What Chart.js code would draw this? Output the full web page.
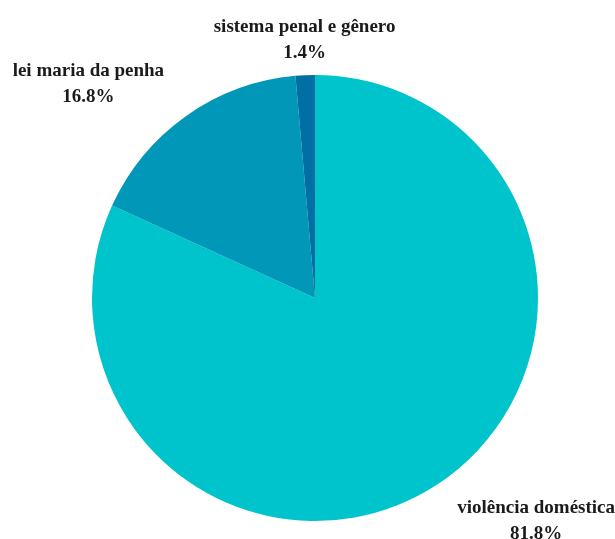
<!DOCTYPE html>
<html>
<head>
<meta charset="utf-8">
<script src="https://cdn.jsdelivr.net/npm/chart.js@4/dist/chart.umd.min.js"></script>
<style>
  body { margin: 0; background: #fff; }
  #grafico { display: block; }
</style>
</head>
<body>
<canvas id="grafico" width="615" height="539"></canvas>
<script>
const categorias = ["violência doméstica", "lei maria da penha", "sistema penal e gênero"];
const valores = [81.8, 16.8, 1.4];
const cores = ["#00c4cc", "#0097b9", "#006fa3"];

// rótulos fora da pizza, como no original
const rotulosExternos = {
    id: "rotulosExternos",
    afterDraw(chart) {
        const ctx = chart.ctx;
        const meta = chart.getDatasetMeta(0);
        const total = valores.reduce((a, b) => a + b, 0);
        const alturaLinha = 26;
        ctx.save();
        ctx.font = "bold 19px 'Liberation Serif', 'Times New Roman', serif";
        ctx.fillStyle = "#1a1a1a";
        ctx.textAlign = "center";
        ctx.textBaseline = "alphabetic";
        meta.data.forEach((arc, i) => {
            const meio = (arc.startAngle + arc.endAngle) / 2;
            const dx = Math.cos(meio);
            const dy = Math.sin(meio);
            const r = arc.outerRadius + 14;
            let px = arc.x + dx * r;
            const py = arc.y + dy * r + 2;
            const linhas = [categorias[i], (valores[i] / total * 100).toFixed(1) + "%"];
            const largura = Math.max(...linhas.map(t => ctx.measureText(t).width));
            let centroX = px;
            if (dx > 0.15) centroX = px + 14 + largura / 2;
            else if (dx < -0.15) centroX = px - 14 - largura / 2;
            let primeira;
            if (dy < 0) primeira = py - 5 - alturaLinha * (linhas.length - 1);
            else primeira = py + 14;
            linhas.forEach((t, j) => {
                ctx.fillText(t, centroX, primeira + alturaLinha * j);
            });
        });
        ctx.restore();
    }
};

new Chart(document.getElementById("grafico").getContext("2d"), {
    type: "pie",
    data: {
        labels: categorias,
        datasets: [{
            data: valores,
            backgroundColor: cores,
            borderWidth: 0
        }]
    },
    options: {
        responsive: false,
        animation: false,
        layout: { padding: { left: 92, right: 77, top: 75, bottom: 18 } },
        plugins: {
            legend: { display: false },
            tooltip: { enabled: false }
        }
    },
    plugins: [rotulosExternos]
});
</script>
</body>
</html>
